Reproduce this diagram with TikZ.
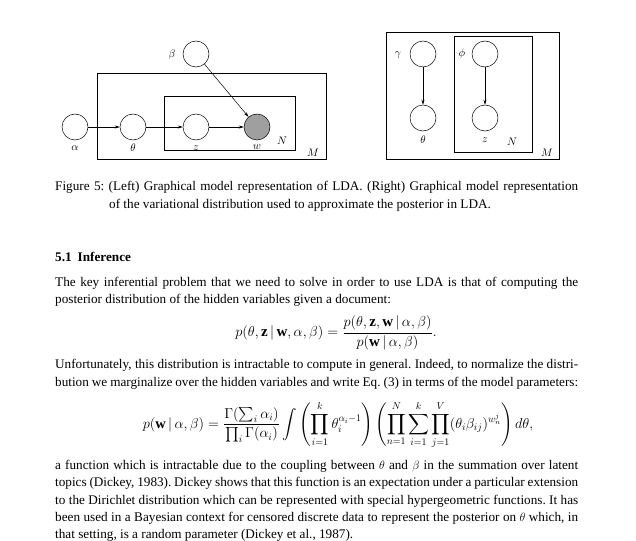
\documentclass[tikz,border=0pt]{standalone}
\usepackage{amsmath,amssymb}
\usepackage{fontspec}
\setmainfont{Liberation Serif}
\usetikzlibrary{arrows.meta}
\newcommand{\jl}[1]{\makebox[523pt][s]{#1}}
\frenchspacing
\begin{document}
\begin{tikzpicture}[x=1pt,y=-1pt,
  rv/.style={circle,draw,minimum size=26pt,inner sep=0pt,line width=0.5pt},
  obs/.style={rv,fill=gray!75},
  plate/.style={draw,line width=0.5pt},
  lab/.style={font=\fontsize{11}{13}\selectfont},
  arr/.style={-{Stealth[length=5pt,width=3pt]},line width=0.5pt},
  txt/.style={anchor=west,inner sep=0pt,font=\fontsize{13.2}{15}\selectfont}]
\useasboundingbox (0,0) rectangle (636,540);
% left model
\node[rv] (a) at (75,127) {};
\node[rv] (t) at (133,127) {};
\node[rv] (z) at (196,127) {};
\node[obs] (w) at (257,127) {};
\node[rv] (b) at (196,54) {};
\node[lab] (la) at (75,148) {$\alpha$};
\node[lab] (lt) at (133,148) {$\theta$};
\node[lab] (lz) at (196,148) {$z$};
\node[lab] (lw) at (257,147) {$w$};
\node[lab] (lb) at (172,55) {$\beta$};
\draw[plate] (97,73) rectangle (326,159);
\draw[plate] (164,96) rectangle (295,150);
\node[lab] (lM) at (313,153) {$M$};
\node[lab] (lN) at (282,141) {$N$};
\draw[arr] (a) -- (t);
\draw[arr] (t) -- (z);
\draw[arr] (z) -- (w);
\draw[arr] (b) -- (w);
% right model
\draw[plate] (386,32) rectangle (559,159);
\draw[plate] (454,36) rectangle (532,152);
\node[rv] (g) at (423,54) {};
\node[rv] (t2) at (423,118) {};
\node[rv] (p) at (485,54) {};
\node[rv] (z2) at (485,118) {};
\node[lab] (lg) at (398,55) {$\gamma$};
\node[lab] (lt2) at (423,140) {$\theta$};
\node[lab] (lp) at (462,54) {$\phi$};
\node[lab] (lz2) at (485,140) {$z$};
\node[lab] (lN2) at (512,142) {$N$};
\node[lab] (lM2) at (547,153) {$M$};
\draw[arr] (g) -- (t2);
\draw[arr] (p) -- (z2);
% caption
\node[txt] (c1) at (55,187) {\jl{Figure 5: (Left) Graphical model representation of LDA. (Right) Graphical model representation}};
\node[txt] (c2) at (109,205) {of the variational distribution used to approximate the posterior in LDA.};
\node[txt,font=\fontsize{13.2}{15}\selectfont\bfseries] (h) at (55,257) {5.1\hspace{6pt}Inference};
\node[txt] (p1) at (55,283) {\jl{The key inferential problem that we need to solve in order to use LDA is that of computing the}};
\node[txt] (p2) at (55,300) {posterior distribution of the hidden variables given a document:};
\node[inner sep=0pt,font=\fontsize{15}{17}\selectfont] (e1) at (336,333) {$\displaystyle p(\theta,\mathbf{z}\,|\,\mathbf{w},\alpha,\beta)=\frac{p(\theta,\mathbf{z},\mathbf{w}\,|\,\alpha,\beta)}{p(\mathbf{w}\,|\,\alpha,\beta)}.$};
\node[txt] (p3) at (55,365) {\jl{Unfortunately, this distribution is intractable to compute in general. Indeed, to normalize the distri-}};
\node[txt] (p4) at (55,383) {\jl{bution we marginalize over the hidden variables and write Eq. (3) in terms of the model parameters:}};
\node[inner sep=0pt,font=\fontsize{14.5}{17}\selectfont] (e2) at (338,425) {$\displaystyle p(\mathbf{w}\,|\,\alpha,\beta)=\frac{\Gamma(\sum_i\alpha_i)}{\prod_i\Gamma(\alpha_i)}\int\left(\prod_{i=1}^{k}\theta_i^{\alpha_i-1}\right)\left(\prod_{n=1}^{N}\sum_{i=1}^{k}\prod_{j=1}^{V}(\theta_i\beta_{ij})^{w_n^j}\right)d\theta,$};
\node[txt] (p5) at (55,466) {\jl{a function which is intractable due to the coupling between $\theta$ and $\beta$ in the summation over latent}};
\node[txt] (p6) at (55,483) {\jl{topics (Dickey, 1983). Dickey shows that this function is an expectation under a particular extension}};
\node[txt] (p7) at (55,501) {\jl{to the Dirichlet distribution which can be represented with special hypergeometric functions. It has}};
\node[txt] (p8) at (55,518) {\jl{been used in a Bayesian context for censored discrete data to represent the posterior on $\theta$ which, in}};
\node[txt] (p9) at (55,535) {that setting, is a random parameter (Dickey et al., 1987).};
\end{tikzpicture}
\end{document}
